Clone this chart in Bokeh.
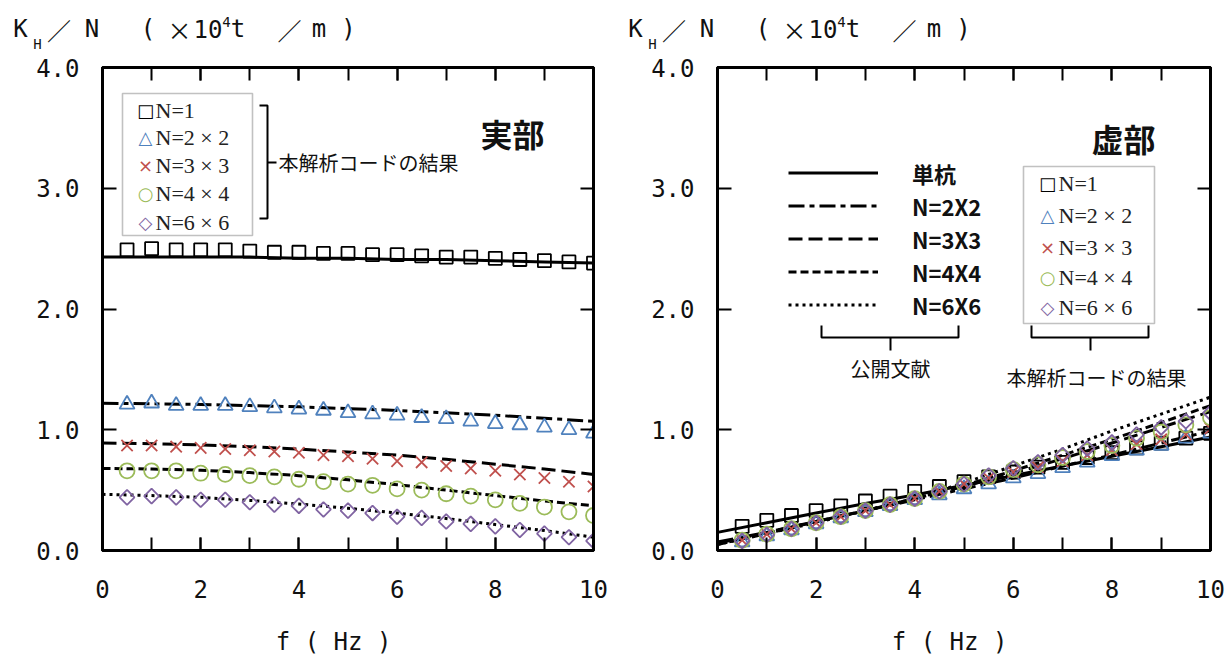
import numpy as np
from bokeh.plotting import figure
from bokeh.models import (LinearAxis, FixedTicker, SingleIntervalTicker, Range1d, Label,
                          BoxAnnotation, Legend, LegendItem, CustomJSTickFormatter,
                          PrintfTickFormatter)
from bokeh.layouts import row, column
from bokeh.embed import file_html
from bokeh.resources import INLINE

# ---------------- data ----------------
f_pts = [0.5, 1.0, 1.5, 2.0, 2.5, 3.0, 3.5, 4.0, 4.5, 5.0,
         5.5, 6.0, 6.5, 7.0, 7.5, 8.0, 8.5, 9.0, 9.5, 10.0]
f_line = [0, 1, 2, 3, 4, 5, 6, 7, 8, 9, 10]

# real part (実部) - analysis code results (markers)
re_n1 = [2.49, 2.50, 2.49, 2.49, 2.49, 2.48, 2.47, 2.47, 2.46, 2.46,
         2.45, 2.45, 2.44, 2.43, 2.43, 2.42, 2.41, 2.40, 2.39, 2.38]
re_n2 = [1.21, 1.22, 1.20, 1.20, 1.20, 1.19, 1.18, 1.17, 1.16, 1.14,
         1.13, 1.12, 1.10, 1.09, 1.07, 1.05, 1.04, 1.02, 1.00, 0.97]
re_n3 = [0.87, 0.87, 0.86, 0.85, 0.84, 0.83, 0.82, 0.81, 0.79, 0.78,
         0.76, 0.74, 0.73, 0.70, 0.68, 0.66, 0.63, 0.60, 0.57, 0.53]
re_n4 = [0.66, 0.66, 0.66, 0.64, 0.63, 0.62, 0.61, 0.59, 0.57, 0.55,
         0.54, 0.51, 0.50, 0.47, 0.45, 0.42, 0.39, 0.36, 0.32, 0.29]
re_n6 = [0.44, 0.45, 0.44, 0.42, 0.42, 0.40, 0.38, 0.37, 0.34, 0.33,
         0.31, 0.28, 0.27, 0.24, 0.22, 0.20, 0.17, 0.14, 0.11, 0.08]
# real part - published literature (lines)
re_l1 = [2.43, 2.43, 2.43, 2.43, 2.42, 2.42, 2.41, 2.41, 2.40, 2.39, 2.38]
re_l2 = [1.22, 1.215, 1.21, 1.20, 1.19, 1.175, 1.16, 1.14, 1.12, 1.095, 1.07]
re_l3 = [0.89, 0.885, 0.875, 0.86, 0.84, 0.815, 0.79, 0.755, 0.715, 0.675, 0.63]
re_l4 = [0.68, 0.675, 0.665, 0.645, 0.62, 0.585, 0.545, 0.50, 0.455, 0.41, 0.37]
re_l6 = [0.465, 0.455, 0.44, 0.415, 0.385, 0.35, 0.31, 0.265, 0.215, 0.165, 0.11]

# imaginary part (虚部) - analysis code results (markers)
im_n1 = [0.20, 0.25, 0.29, 0.33, 0.37, 0.41, 0.45, 0.49, 0.53, 0.57,
         0.61, 0.65, 0.69, 0.73, 0.77, 0.81, 0.85, 0.89, 0.93, 0.97]
im_n2 = [0.07, 0.12, 0.17, 0.22, 0.27, 0.32, 0.37, 0.42, 0.46, 0.51,
         0.55, 0.60, 0.635, 0.685, 0.73, 0.785, 0.83, 0.87, 0.93, 0.97]
im_n3 = [0.085, 0.135, 0.18, 0.23, 0.28, 0.33, 0.38, 0.43, 0.49, 0.55,
         0.60, 0.65, 0.69, 0.74, 0.79, 0.83, 0.88, 0.92, 0.96, 1.01]
im_n4 = [0.085, 0.135, 0.18, 0.23, 0.28, 0.33, 0.38, 0.43, 0.49, 0.55,
         0.61, 0.67, 0.71, 0.77, 0.82, 0.87, 0.93, 0.98, 1.04, 1.10]
im_n6 = [0.08, 0.13, 0.18, 0.23, 0.28, 0.33, 0.38, 0.43, 0.49, 0.55,
         0.62, 0.68, 0.73, 0.79, 0.845, 0.895, 0.96, 1.02, 1.07, 1.14]
# imaginary part - published literature (lines)
im_l1 = [0.15, 0.23, 0.31, 0.39, 0.46, 0.54, 0.62, 0.70, 0.78, 0.86, 0.94]
im_l2 = [0.07, 0.15, 0.24, 0.33, 0.42, 0.51, 0.60, 0.70, 0.79, 0.89, 0.99]
im_l3 = [0.06, 0.15, 0.24, 0.33, 0.43, 0.53, 0.64, 0.76, 0.89, 1.02, 1.15]
im_l4 = [0.05, 0.14, 0.24, 0.33, 0.43, 0.54, 0.66, 0.79, 0.92, 1.06, 1.20]
im_l6 = [0.05, 0.14, 0.23, 0.33, 0.43, 0.56, 0.70, 0.84, 0.99, 1.13, 1.27]

y_ticks = [0, 1, 2, 3, 4]
x_major_step = 2

marker_labels = ["N=1", "N=2 × 2", "N=3 × 3", "N=4 × 4", "N=6 × 6"]
marker_symbols = ["□", "△", "×", "○", "◇"]
line_labels = ["単杭", "N=2X2", "N=3X3", "N=4X4", "N=6X6"]

# ---------------- styles ----------------
COLORS = ["#000000", "#4f81bd", "#c0504d", "#9bbb59", "#8064a2"]
MARKERS = [dict(marker="square", size=13, angle=0.0),
           dict(marker="triangle", size=15, angle=0.0),
           dict(marker="x", size=16, angle=0.0),
           dict(marker="circle", size=15, angle=0.0),
           dict(marker="square", size=10.5, angle=np.pi / 4)]
DASHES = ["solid", "16 5 5 5", "14 6", "8 4", "3 4"]

MONO = "DejaVu Sans Mono"
CJK = "Noto Sans CJK JP"
SERIF = "Liberation Serif"

HEAD_H = 55          # header strip holding the y-axis titles
MAIN_H = 604
B_TOP = 12           # frame top at page y = 67
B_BOT = 109          # frame bottom at page y = 550


def yconv(py):
    return (550.0 - py) / 120.75


def make_fig(width, bl, br):
    p = figure(width=width, height=MAIN_H, x_range=Range1d(0, 10), y_range=Range1d(0, 4),
               output_backend="svg", toolbar_location=None,
               min_border_left=bl, min_border_right=br,
               min_border_top=B_TOP, min_border_bottom=B_BOT)
    p.xgrid.visible = False
    p.ygrid.visible = False
    p.outline_line_color = "black"
    p.outline_line_width = 3
    p.background_fill_color = "white"
    p.border_fill_color = "white"

    xa = p.xaxis[0]
    xa.ticker = SingleIntervalTicker(interval=x_major_step, num_minor_ticks=2)
    xa.major_tick_in = 13
    xa.major_tick_out = 0
    xa.minor_tick_in = 13
    xa.minor_tick_out = 0
    xa.major_tick_line_width = 2
    xa.minor_tick_line_width = 2
    xa.axis_line_width = 3
    xa.major_label_text_font = MONO
    xa.major_label_text_font_size = "24px"
    xa.major_label_text_color = "#111111"
    xa.major_label_standoff = 29
    xa.axis_label = "f  ( Hz  )"
    xa.axis_label_text_font = MONO
    xa.axis_label_text_font_size = "24px"
    xa.axis_label_text_font_style = "normal"
    xa.axis_label_text_color = "#111111"
    xa.axis_label_standoff = 27

    ya = p.yaxis[0]
    ya.ticker = FixedTicker(ticks=y_ticks)
    ya.formatter = PrintfTickFormatter(format="%.1f")
    ya.major_tick_in = 14
    ya.major_tick_out = 0
    ya.minor_tick_in = 0
    ya.minor_tick_out = 0
    ya.major_tick_line_width = 2
    ya.axis_line_width = 3
    ya.major_label_text_font = MONO
    ya.major_label_text_font_size = "24px"
    ya.major_label_text_color = "#111111"
    ya.major_label_standoff = 23

    blank = CustomJSTickFormatter(code="return ''")
    top = LinearAxis(ticker=SingleIntervalTicker(interval=x_major_step, num_minor_ticks=2),
                     formatter=blank, major_tick_in=13, major_tick_out=0,
                     minor_tick_in=13, minor_tick_out=0, major_tick_line_width=2,
                     minor_tick_line_width=2, axis_line_width=3, major_label_standoff=0,
                     major_label_text_font_size="0px")
    p.add_layout(top, "above")
    right = LinearAxis(ticker=FixedTicker(ticks=y_ticks[1:-1]), formatter=blank,
                       major_tick_in=13, major_tick_out=0, minor_tick_in=0, minor_tick_out=0,
                       major_tick_line_width=2, axis_line_width=3, major_label_standoff=0,
                       major_label_text_font_size="0px")
    p.add_layout(right, "right")
    return p


def txt(p, xc, yc, px, py, text, size, font=MONO, align="center", style="normal",
        color="#111111"):
    p.add_layout(Label(x=xc(px), y=yc(py), text=text, text_font=font,
                       text_font_size=f"{size}px", text_align=align, text_baseline="middle",
                       text_font_style=style, text_color=color))


def draw_series(p, lines, marks):
    rs = []
    for ys, dash in zip(lines, DASHES):
        rs.append(p.line(f_line, ys, line_color="black", line_width=3, line_dash=dash))
    for ys, col, mk in zip(marks, COLORS, MARKERS):
        p.scatter(f_pts, ys, marker=mk["marker"], size=mk["size"], angle=mk["angle"],
                  line_color=col, fill_alpha=0, line_width=1.8)
    return rs


def marker_legend(p, xc, box, sym_x, txt_x, rows):
    l, r, t, b = box
    p.add_layout(BoxAnnotation(left=xc(l), right=xc(r), top=yconv(t), bottom=yconv(b),
                               fill_color="white", fill_alpha=1.0,
                               line_color="#333333", line_width=1.6))
    for sym, lab, col, py in zip(marker_symbols, marker_labels, COLORS, rows):
        txt(p, xc, yconv, sym_x, py, sym, 18, font="DejaVu Sans", color=col)
        txt(p, xc, yconv, txt_x, py, lab, 22, font=SERIF, align="left", color="#222222")


def bracket(p, xc, pts_main, pts_stem):
    xs = [[xc(a) for a, _ in pts_main], [xc(a) for a, _ in pts_stem]]
    ys = [[yconv(b) for _, b in pts_main], [yconv(b) for _, b in pts_stem]]
    p.multi_line(xs, ys, line_color="black", line_width=2)


# ---------------- header strip: y-axis titles ----------------
head = figure(width=1226, height=HEAD_H, x_range=Range1d(0, 1226), y_range=Range1d(HEAD_H, 0),
              output_backend="svg", toolbar_location=None, min_border=0,
              x_axis_location=None, y_axis_location=None)
head.xgrid.visible = False
head.ygrid.visible = False
head.outline_line_color = None
head.background_fill_color = "white"
head.border_fill_color = "white"
ident = lambda v: v
tokens = [("K", 20, 28, 24, MONO), ("H", 37, 43, 14, MONO), ("／", 58.5, 29, 24, CJK),
          ("N", 91.5, 28, 24, MONO), ("(", 147.5, 28, 24, MONO), ("×", 179, 29, 24, CJK),
          ("10", 207.5, 28, 24, MONO), ("4", 226, 21, 14, MONO), ("t", 237.5, 28, 24, MONO),
          ("／", 289, 29, 24, CJK), ("m", 318.5, 28, 24, MONO), (")", 348, 28, 24, MONO)]
for off in (0, 615):
    for t, px, py, s, fnt in tokens:
        txt(head, ident, ident, px + off, py, t, s, font=fnt)

# ---------------- left: real part ----------------
W1 = 620
p1 = make_fig(W1, 102, W1 - 102 - 491)
xc1 = lambda px: (px - 102.0) / 49.1
draw_series(p1, [re_l1, re_l2, re_l3, re_l4, re_l6], [re_n1, re_n2, re_n3, re_n4, re_n6])
marker_legend(p1, xc1, (122, 252, 93, 235), 145, 155, [110, 137, 165, 193, 222])
bracket(p1, xc1, [(259, 105), (267, 105), (267, 218), (259, 218)], [(267, 162), (276, 162)])
txt(p1, xc1, yconv, 278, 162, "本解析コードの結果", 20, font=CJK, align="left")
txt(p1, xc1, yconv, 512, 132, "実部", 32, font=CJK, style="bold")

# ---------------- right: imaginary part ----------------
W2 = 1226 - W1
p2 = make_fig(W2, 717 - W1, 1226 - 1210)
xc2 = lambda px: (px - 717.0) / 49.3
lrs = draw_series(p2, [im_l1, im_l2, im_l3, im_l4, im_l6], [im_n1, im_n2, im_n3, im_n4, im_n6])
marker_legend(p2, xc2, (1023, 1154, 166, 323), 1047, 1058, [183, 215, 247, 277, 307])
txt(p2, xc2, yconv, 1123, 137, "虚部", 32, font=CJK, style="bold")
leg = Legend(items=[LegendItem(label=lab, renderers=[r]) for lab, r in zip(line_labels, lrs)],
             location=(71, 229), glyph_width=90, glyph_height=33, label_height=33,
             spacing=0, padding=0, margin=0, label_standoff=34,
             border_line_color=None, background_fill_alpha=0,
             label_text_font=CJK, label_text_font_style="bold",
             label_text_font_size="22px", label_text_color="#111111")
p2.add_layout(leg)
bracket(p2, xc2, [(821, 325), (821, 337), (958, 337), (958, 325)], [(890, 337), (890, 350)])
bracket(p2, xc2, [(1031, 325), (1031, 337), (1148, 337), (1148, 325)], [(1090, 337), (1090, 350)])
txt(p2, xc2, yconv, 890, 368, "公開文献", 20, font=CJK)
txt(p2, xc2, yconv, 1096, 377, "本解析コードの結果", 20, font=CJK)

layout = column(head, row(p1, p2))
open("out.html", "w").write(file_html(layout, INLINE))
